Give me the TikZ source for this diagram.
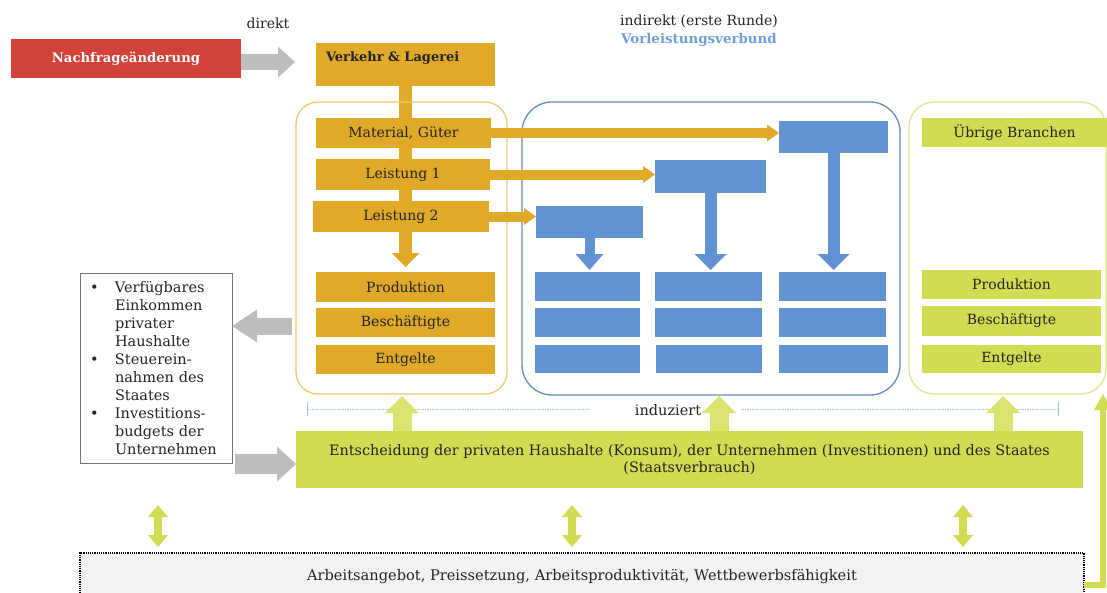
\documentclass[tikz,border=0pt]{standalone}
\usepackage{fontspec}
\setmainfont{DejaVu Serif}
\usetikzlibrary{arrows.meta,calc}
\definecolor{redbox}{RGB}{208,66,58}
\definecolor{orbox}{RGB}{224,169,40}
\definecolor{orline}{RGB}{240,200,112}
\definecolor{bluebox}{RGB}{97,146,210}
\definecolor{blueline}{RGB}{105,140,180}
\definecolor{limebox}{RGB}{210,220,82}
\definecolor{limearrow}{RGB}{218,228,112}
\definecolor{limeline}{RGB}{220,230,140}
\definecolor{grayarr}{RGB}{190,190,190}
\definecolor{dashblue}{RGB}{157,195,230}
\definecolor{txt}{RGB}{35,35,35}
\definecolor{vorblue}{RGB}{111,159,216}
\definecolor{bottomfill}{RGB}{242,242,242}
\pgfdeclarelayer{bg}
\pgfsetlayers{bg,main}
\newcommand\placebox[7]{\node[#2, minimum width={(#5)-(#3)}, minimum height={(#6)-(#4)}] (#1) at ({((#3)+(#5))/2},{((#4)+(#6))/2}) {#7};}
\begin{document}
\begin{tikzpicture}[x=1pt,y=-1pt,
  every node/.style={inner sep=0pt,outer sep=0pt,text=txt},
  bx/.style={font=\fontsize{14}{16}\selectfont},
  obx/.style={bx,fill=orbox},
  bbx/.style={fill=bluebox},
  gbx/.style={bx,fill=limebox},
  ocontainer/.style={draw=orline,line width=1.3pt,rounded corners=22pt},
  bcontainer/.style={draw=blueline,line width=1.3pt,rounded corners=30pt},
  gcontainer/.style={draw=limeline,line width=1.3pt,rounded corners=25pt},
  lbl/.style={font=\fontsize{14}{16}\selectfont},
]
\useasboundingbox (0,0) rectangle (1107,592);

% containers
\placebox{ocont}{ocontainer}{296}{102}{507}{394}{}
\placebox{bcont}{bcontainer}{522}{102}{900}{395}{}
\placebox{gcont}{gcontainer}{909}{102}{1106}{394}{}

% top
\placebox{red}{fill=redbox,text=white,font=\bfseries\fontsize{13.2}{15}\selectfont}{11}{39}{241}{78}{Nachfrageänderung}
\node[lbl] (direkt) at (268,23) {direkt};
\node[lbl] (indirekt) at (699,21) {indirekt (erste Runde)};
\node[text=vorblue,font=\bfseries\fontsize{13.4}{15}\selectfont] (vorl) at (699,40) {Vorleistungsverbund};

% orange boxes
\placebox{verkehr}{fill=orbox}{316}{43}{495}{86}{}
\node[font=\bfseries\fontsize{13}{15}\selectfont,anchor=west] (verkehrtext) at (326,58) {Verkehr \& Lagerei};
\placebox{mat}{obx}{316}{118}{491}{148}{Material, Güter}
\placebox{l1}{obx}{316}{159}{490}{190}{Leistung 1}
\placebox{l2}{obx}{313}{201}{489}{232}{Leistung 2}
\placebox{oprod}{obx}{316}{272}{495}{302}{Produktion}
\placebox{obesch}{obx}{316}{308}{495}{337}{Beschäftigte}
\placebox{oentg}{obx}{316}{345}{495}{374}{Entgelte}

% blue boxes
\placebox{b1}{bbx}{536}{206}{643}{238}{}
\placebox{b2}{bbx}{655}{160}{766}{193}{}
\placebox{b3}{bbx}{779}{121}{888}{153}{}
\placebox{c11}{bbx}{535}{272}{640}{301}{}
\placebox{c12}{bbx}{535}{308}{640}{337}{}
\placebox{c13}{bbx}{535}{345}{640}{373}{}
\placebox{c21}{bbx}{655}{272}{762}{301}{}
\placebox{c22}{bbx}{655}{308}{762}{337}{}
\placebox{c23}{bbx}{656}{345}{762}{373}{}
\placebox{c31}{bbx}{779}{272}{886}{301}{}
\placebox{c32}{bbx}{779}{308}{886}{337}{}
\placebox{c33}{bbx}{779}{345}{888}{373}{}

% green boxes
\placebox{ueb}{gbx}{922}{118}{1107}{147}{Übrige Branchen}
\placebox{gprod}{gbx}{922}{270}{1101}{299}{Produktion}
\placebox{gbesch}{gbx}{922}{306}{1101}{336}{Beschäftigte}
\placebox{gentg}{gbx}{922}{345}{1101}{373}{Entgelte}

% left text box
\node[draw=black!55,line width=0.8pt,minimum width=152pt,minimum height=190pt,
      text width=132pt,inner xsep=10pt,align=left,
      font=\fontsize{14.5}{18.1}\selectfont] (left) at (156,368)
 {\makebox[25pt][l]{•}Verfügbares\\\hspace*{25pt}Einkommen\\\hspace*{25pt}privater\\\hspace*{25pt}Haushalte\\
  \makebox[25pt][l]{•}Steuerein-\\\hspace*{25pt}nahmen des\\\hspace*{25pt}Staates\\
  \makebox[25pt][l]{•}Investitions-\\\hspace*{25pt}budgets der\\\hspace*{25pt}Unternehmen};

% big decision box
\placebox{big}{gbx,align=center,font=\fontsize{14.4}{17.5}\selectfont}{296}{431}{1083}{488}{Entscheidung der privaten Haushalte (Konsum), der Unternehmen (Investitionen) und des Staates\\(Staatsverbrauch)}

% bottom box
\placebox{bot}{fill=bottomfill,draw=black,line width=1.2pt,densely dotted,font=\fontsize{14.6}{16}\selectfont}{80}{553}{1084}{600}{Arbeitsangebot, Preissetzung, Arbeitsproduktivität, Wettbewerbsfähigkeit}

% orange vertical arrow (behind boxes)
\begin{pgfonlayer}{bg}
\draw[orbox,line width=13pt,-{Triangle[width=28pt,length=14pt,line width=0pt]}] (verkehr.south) -- ($(oprod.north)+(0,-5)$);
\end{pgfonlayer}

% orange horizontal arrows
\draw[orbox,line width=10pt,-{Triangle[width=17pt,length=12pt,line width=0pt]}] (mat.east) -- (mat.east -| b3.west);
\draw[orbox,line width=10pt,-{Triangle[width=17pt,length=12pt,line width=0pt]}] (l1.east) -- (l1.east -| b2.west);
\draw[orbox,line width=10pt,-{Triangle[width=17pt,length=12pt,line width=0pt]}] (l2.east) -- (l2.east -| b1.west);

% blue down arrows
\draw[bluebox,line width=10pt,-{Triangle[width=28pt,length=16pt,line width=0pt]}] (b1.south) -- ($(b1.south |- c11.north)+(0,-2)$);
\draw[bluebox,line width=12pt,-{Triangle[width=32pt,length=16pt,line width=0pt]}] (b2.south) -- ($(b2.south |- c21.north)+(0,-2)$);
\draw[bluebox,line width=12pt,-{Triangle[width=32pt,length=16pt,line width=0pt]}] (b3.south) -- ($(b3.south |- c31.north)+(0,-2)$);

% gray arrows
\coordinate (gatip) at (295,62);
\draw[grayarr,line width=16pt,-{Triangle[width=31pt,length=17pt,line width=0pt]}] (red.east |- gatip) -- (gatip);
\coordinate (gbtail) at (292,326);
\draw[grayarr,line width=17pt,-{Triangle[width=33pt,length=25pt,line width=0pt]}] (gbtail) -- (gbtail -| left.east);
\coordinate (gctail) at (235,464);
\draw[grayarr,line width=20pt,-{Triangle[width=35pt,length=19pt,line width=0pt]}] (gctail) -- (gctail -| big.west);

% induziert line
\coordinate (d1) at (307,409);
\coordinate (d2) at (589,409);
\coordinate (d3) at (742,409);
\coordinate (d4) at (1058,409);
\draw[dashblue,line width=0.8pt,dash pattern=on 1.5pt off 1pt] (d1) -- (d2) (d3) -- (d4);
\draw[dashblue,line width=0.8pt] ($(d1)+(0,-7)$) -- ($(d1)+(0,7)$) ($(d4)+(0,-7)$) -- ($(d4)+(0,7)$);
\node[font=\fontsize{14.5}{16}\selectfont] (induziert) at (668,410) {induziert};

% green up arrows
\coordinate (u1) at (402,0);
\coordinate (u2) at (719,0);
\coordinate (u3) at (1003,0);
\draw[limearrow,line width=19pt,-{Triangle[width=34pt,length=17pt,line width=0pt]}] (u1 |- big.north) -- ($(u1 |- ocont.south)+(0,2)$);
\draw[limearrow,line width=19pt,-{Triangle[width=34pt,length=17pt,line width=0pt]}] (u2 |- big.north) -- ($(u2 |- bcont.south)+(0,1)$);
\draw[limearrow,line width=19pt,-{Triangle[width=34pt,length=17pt,line width=0pt]}] (u3 |- big.north) -- ($(u3 |- gcont.south)+(0,2)$);

% double arrows
\coordinate (da1) at (158,505);
\coordinate (db1) at (158,547);
\coordinate (da2) at (572,505);
\coordinate (db2) at (572,547);
\coordinate (da3) at (963,505);
\coordinate (db3) at (963,547);
\foreach \i in {1,2,3}{
  \draw[limebox,line width=8pt,{Triangle[width=20pt,length=12pt,line width=0pt]}-{Triangle[width=20pt,length=12pt,line width=0pt]}] (da\i) -- (db\i);
}

% elbow arrow on the right
\coordinate (elbow) at (1103,585);
\draw[limebox,line width=5.5pt,-{Triangle[width=18pt,length=16pt,line width=0pt]}] (bot.east |- elbow) -- (elbow) -- (elbow |- gcont.south);
\end{tikzpicture}
\end{document}
